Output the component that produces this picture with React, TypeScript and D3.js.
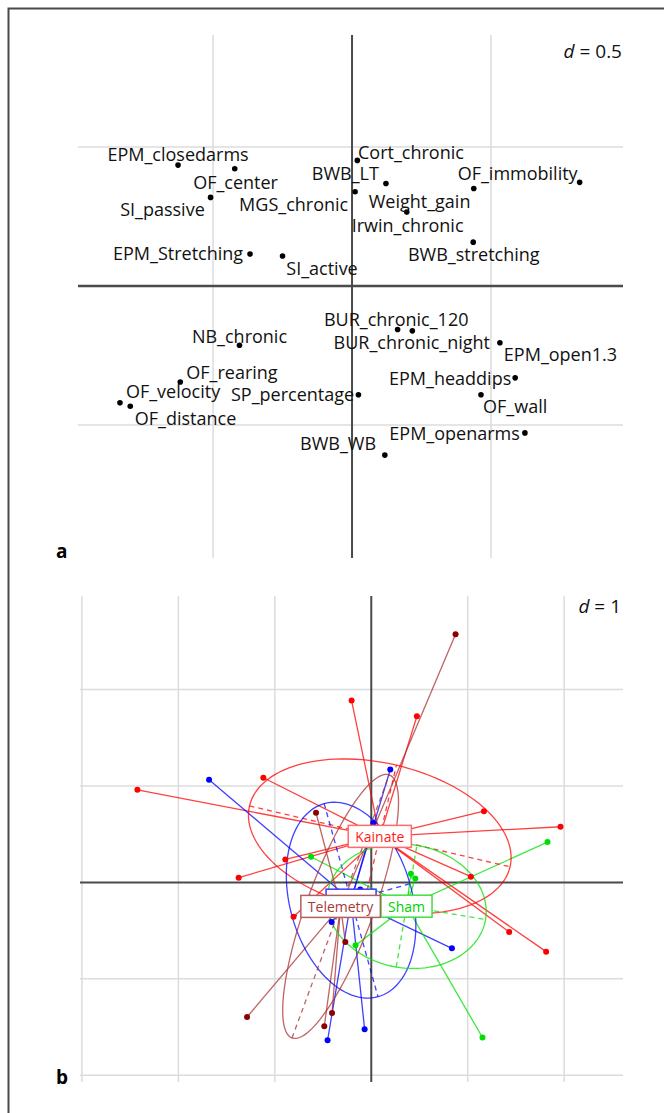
import React, { useEffect, useRef } from 'react'
import * as d3 from 'd3'

const W = 664
const H = 1113
const FONT = '"Open Sans", "Noto Sans", sans-serif'

// panel a: variable scores on the two axes
const varNames = [
  'EPM_closedarms', 'OF_center', 'SI_passive', 'EPM_Stretching', 'SI_active', 'MGS_chronic',
  'Cort_chronic', 'BWB_LT', 'Weight_gain', 'Irwin_chronic', 'OF_immobility', 'BWB_stretching',
  'BUR_chronic_120', 'BUR_chronic_night', 'EPM_open1.3', 'NB_chronic', 'OF_rearing', 'OF_velocity',
  'OF_distance', 'SP_percentage', 'EPM_headdips', 'OF_wall', 'EPM_openarms', 'BWB_WB'
]
const varX = [
  -0.626, -0.422, -0.509, -0.367, -0.25, 0.011,
  0.019, 0.122, 0.438, 0.197, 0.819, 0.436,
  0.164, 0.217, 0.532, -0.405, -0.618, -0.835,
  -0.798, 0.023, 0.587, 0.464, 0.622, 0.118
]
const varY = [
  0.435, 0.422, 0.319, 0.115, 0.108, 0.339,
  0.452, 0.369, 0.351, 0.266, 0.373, 0.158,
  -0.156, -0.161, -0.204, -0.213, -0.345, -0.42,
  -0.432, -0.391, -0.33, -0.391, -0.528, -0.608
]
// where each label ended up (same units)
const labelX = [
  -0.626, -0.419, -0.682, -0.626, -0.108, -0.21,
  0.212, -0.024, 0.243, 0.2, 0.596, 0.438,
  0.159, 0.215, 0.75, -0.405, -0.432, -0.644,
  -0.599, -0.214, 0.353, 0.587, 0.369, -0.05
]
const labelY = [
  0.475, 0.375, 0.276, 0.118, 0.066, 0.295,
  0.483, 0.408, 0.306, 0.219, 0.408, 0.115,
  -0.119, -0.201, -0.245, -0.18, -0.309, -0.378,
  -0.475, -0.388, -0.331, -0.432, -0.529, -0.565
]
const gridA = [-0.5, 0, 0.5]

// panel b: individuals by group
const kainateX = [-2.425, -1.119, -0.204, 0.473, 1.168, 1.962, -1.375, -0.891, 1.43, 1.813, 1.033, -0.806]
const kainateY = [0.96, 1.085, 1.886, 1.723, 0.739, 0.577, 0.049, 0.238, -0.515, -0.718, 0.059, -0.356]
const blueX = [-1.682, 0.197, 0.836, -0.069, -0.453, -0.411, -0.114, 0.021]
const blueY = [1.064, 1.171, -0.684, -1.523, -1.637, -0.411, -0.073, 0.617]
const shamX = [1.827, 1.153, 0.411, 0.456, -0.163, -0.625, -0.5]
const shamY = [0.418, -1.609, 0.09, 0.041, -0.653, 0.266, -0.28]
const telemetryX = [0.874, -1.288, -0.487, -0.407, -0.269, -0.573, -0.076]
const telemetryY = [2.573, -1.396, -1.492, -1.354, -0.619, 0.722, -0.177]
const gridBX = [-3, -2, -1, 0, 1, 2]
const gridBY = [-2, -1, 0, 1, 2]

const groups = [
  { name: 'Kainate', xs: kainateX, ys: kainateY, col: '#ff0000', dot: '#ff0000', box: '#ff6a6a', text: '#ff1a1a' },
  { name: '', xs: blueX, ys: blueY, col: '#0000ff', dot: '#0000ff', box: '#3b3bff', text: '#0000ff' },
  { name: 'Sham', xs: shamX, ys: shamY, col: '#00e000', dot: '#00dd00', box: '#3ee03e', text: '#00d000' },
  { name: 'Telemetry', xs: telemetryX, ys: telemetryY, col: '#a83030', dot: '#8b0000', box: '#b06060', text: '#a83a3a' }
]

function ellipseOf (xs: number[], ys: number[]) {
  const n = xs.length
  const mx = d3.mean(xs) as number
  const my = d3.mean(ys) as number
  let vx = 0
  let vy = 0
  let cxy = 0
  for (let i = 0; i < n; i++) {
    vx += (xs[i] - mx) ** 2
    vy += (ys[i] - my) ** 2
    cxy += (xs[i] - mx) * (ys[i] - my)
  }
  vx /= n; vy /= n; cxy /= n
  const d = Math.sqrt(((vx - vy) / 2) ** 2 + cxy ** 2)
  const a = Math.sqrt((vx + vy) / 2 + d)
  const b = Math.sqrt(Math.max((vx + vy) / 2 - d, 0))
  const th = 0.5 * Math.atan2(2 * cxy, vx - vy)
  return { mx, my, a, b, th }
}

function drawA (svg: any) {
  const x = d3.scaleLinear().domain([-0.986, 0.975]).range([78, 623])
  const y = d3.scaleLinear().domain([0.903, -0.978]).range([35, 558])
  const g = svg.append('g')

  gridA.filter(v => v !== 0).forEach(v => {
    g.append('line').attr('x1', x(v)).attr('x2', x(v)).attr('y1', 35).attr('y2', 558)
      .attr('stroke', '#dcdcdc').attr('stroke-width', 1.5)
    g.append('line').attr('y1', y(v)).attr('y2', y(v)).attr('x1', 78).attr('x2', 623)
      .attr('stroke', '#dcdcdc').attr('stroke-width', 1.5)
  })
  g.append('line').attr('x1', x(0)).attr('x2', x(0)).attr('y1', 35).attr('y2', 558)
    .attr('stroke', '#4a4a4a').attr('stroke-width', 2)
  g.append('line').attr('y1', y(0)).attr('y2', y(0)).attr('x1', 78).attr('x2', 623)
    .attr('stroke', '#4a4a4a').attr('stroke-width', 2.5)

  g.selectAll('circle.v').data(varNames).enter().append('circle')
    .attr('cx', (_: string, i: number) => x(varX[i]))
    .attr('cy', (_: string, i: number) => y(varY[i]))
    .attr('r', 2.8).attr('fill', '#000')

  g.selectAll('text.v').data(varNames).enter().append('text')
    .attr('x', (_: string, i: number) => x(labelX[i]))
    .attr('y', (_: string, i: number) => y(labelY[i]))
    .attr('text-anchor', 'middle').attr('dominant-baseline', 'central')
    .style('font-family', FONT).style('font-size', '18px').attr('fill', '#111')
    .text((d: string) => d)

  const dt = g.append('text').attr('x', 622).attr('y', 58).attr('text-anchor', 'end')
    .style('font-family', FONT).style('font-size', '19px').attr('fill', '#111')
  dt.append('tspan').style('font-style', 'italic').text('d')
  dt.append('tspan').text(' = 0.5')

  g.append('text').attr('x', 56).attr('y', 558).style('font-family', FONT)
    .style('font-size', '19px').style('font-weight', 'bold').text('a')
}

function drawB (svg: any) {
  const x = d3.scaleLinear().domain([-3.02, 2.61]).range([80, 623])
  const y = d3.scaleLinear().domain([2.97, -2.07]).range([596, 1082])
  const g = svg.append('g')

  gridBX.filter(v => v !== 0).forEach(v => {
    g.append('line').attr('x1', x(v)).attr('x2', x(v)).attr('y1', 596).attr('y2', 1082)
      .attr('stroke', '#dcdcdc').attr('stroke-width', 1.5)
  })
  gridBY.filter(v => v !== 0).forEach(v => {
    g.append('line').attr('y1', y(v)).attr('y2', y(v)).attr('x1', 80).attr('x2', 623)
      .attr('stroke', '#dcdcdc').attr('stroke-width', 1.5)
  })
  g.append('line').attr('x1', x(0)).attr('x2', x(0)).attr('y1', 596).attr('y2', 1082)
    .attr('stroke', '#4a4a4a').attr('stroke-width', 2)
  g.append('line').attr('y1', y(0)).attr('y2', y(0)).attr('x1', 80).attr('x2', 623)
    .attr('stroke', '#4a4a4a').attr('stroke-width', 2)

  const ells = groups.map(gr => ellipseOf(gr.xs, gr.ys))

  // stars
  groups.forEach((gr, k) => {
    const e = ells[k]
    gr.xs.forEach((v, i) => {
      g.append('line').attr('x1', x(e.mx)).attr('y1', y(e.my))
        .attr('x2', x(v)).attr('y2', y(gr.ys[i]))
        .attr('stroke', gr.col).attr('stroke-width', 1.3).attr('stroke-opacity', 0.75)
    })
  })

  // ellipses and their axes
  const line = d3.line<number[]>().x(d => x(d[0])).y(d => y(d[1])).curve(d3.curveLinearClosed)
  groups.forEach((gr, k) => {
    const e = ells[k]
    const c = Math.cos(e.th)
    const s = Math.sin(e.th)
    const pts = d3.range(0, 360, 3).map(deg => {
      const t = deg * Math.PI / 180
      return [e.mx + e.a * Math.cos(t) * c - e.b * Math.sin(t) * s,
        e.my + e.a * Math.cos(t) * s + e.b * Math.sin(t) * c]
    })
    g.append('path').attr('d', line(pts)).attr('fill', 'none')
      .attr('stroke', gr.col).attr('stroke-width', 1.3).attr('stroke-opacity', 0.75)
    const axes = [[e.a * c, e.a * s], [-e.b * s, e.b * c]]
    axes.forEach(([dx, dy]) => {
      g.append('line').attr('x1', x(e.mx - dx)).attr('y1', y(e.my - dy))
        .attr('x2', x(e.mx + dx)).attr('y2', y(e.my + dy))
        .attr('stroke', gr.col).attr('stroke-width', 1.3).attr('stroke-opacity', 0.75)
        .attr('stroke-dasharray', '5,4')
    })
  })

  // points
  groups.forEach(gr => {
    gr.xs.forEach((v, i) => {
      g.append('circle').attr('cx', x(v)).attr('cy', y(gr.ys[i])).attr('r', 3)
        .attr('fill', gr.dot)
    })
  })

  // group labels at the centroids
  groups.forEach((gr, k) => {
    const e = ells[k]
    const lg = g.append('g')
    const rect = lg.append('rect').attr('fill', '#fff').attr('stroke', gr.box).attr('stroke-width', 1.5)
    let bw = 50
    if (gr.name) {
      const t = lg.append('text').attr('x', x(e.mx)).attr('y', y(e.my))
        .attr('text-anchor', 'middle').attr('dominant-baseline', 'central')
        .style('font-family', FONT).style('font-size', '14px').attr('fill', gr.text)
        .text(gr.name)
      bw = (t.node() as SVGTextElement).getComputedTextLength() + 14
    }
    rect.attr('x', x(e.mx) - bw / 2).attr('y', y(e.my) - 11).attr('width', bw).attr('height', 22)
  })

  const dt = g.append('text').attr('x', 621).attr('y', 613).attr('text-anchor', 'end')
    .style('font-family', FONT).style('font-size', '19px').attr('fill', '#111')
  dt.append('tspan').style('font-style', 'italic').text('d')
  dt.append('tspan').text(' = 1')

  g.append('text').attr('x', 56).attr('y', 1084).style('font-family', FONT)
    .style('font-size', '19px').style('font-weight', 'bold').text('b')
}

export default function App () {
  const ref = useRef<SVGSVGElement>(null)

  useEffect(() => {
    const svg = d3.select(ref.current)
    svg.selectAll('*').remove()
    svg.append('path').attr('d', `M8.5,${H} V8.5 H${W}`).attr('fill', 'none')
      .attr('stroke', '#4a4a4a').attr('stroke-width', 2)
    drawA(svg)
    drawB(svg)
  }, [])

  return (
    <div style={{ position: 'absolute', left: 0, top: 0 }}>
      <svg ref={ref} width={W} height={H} style={{ display: 'block', background: '#fff' }} />
    </div>
  )
}
